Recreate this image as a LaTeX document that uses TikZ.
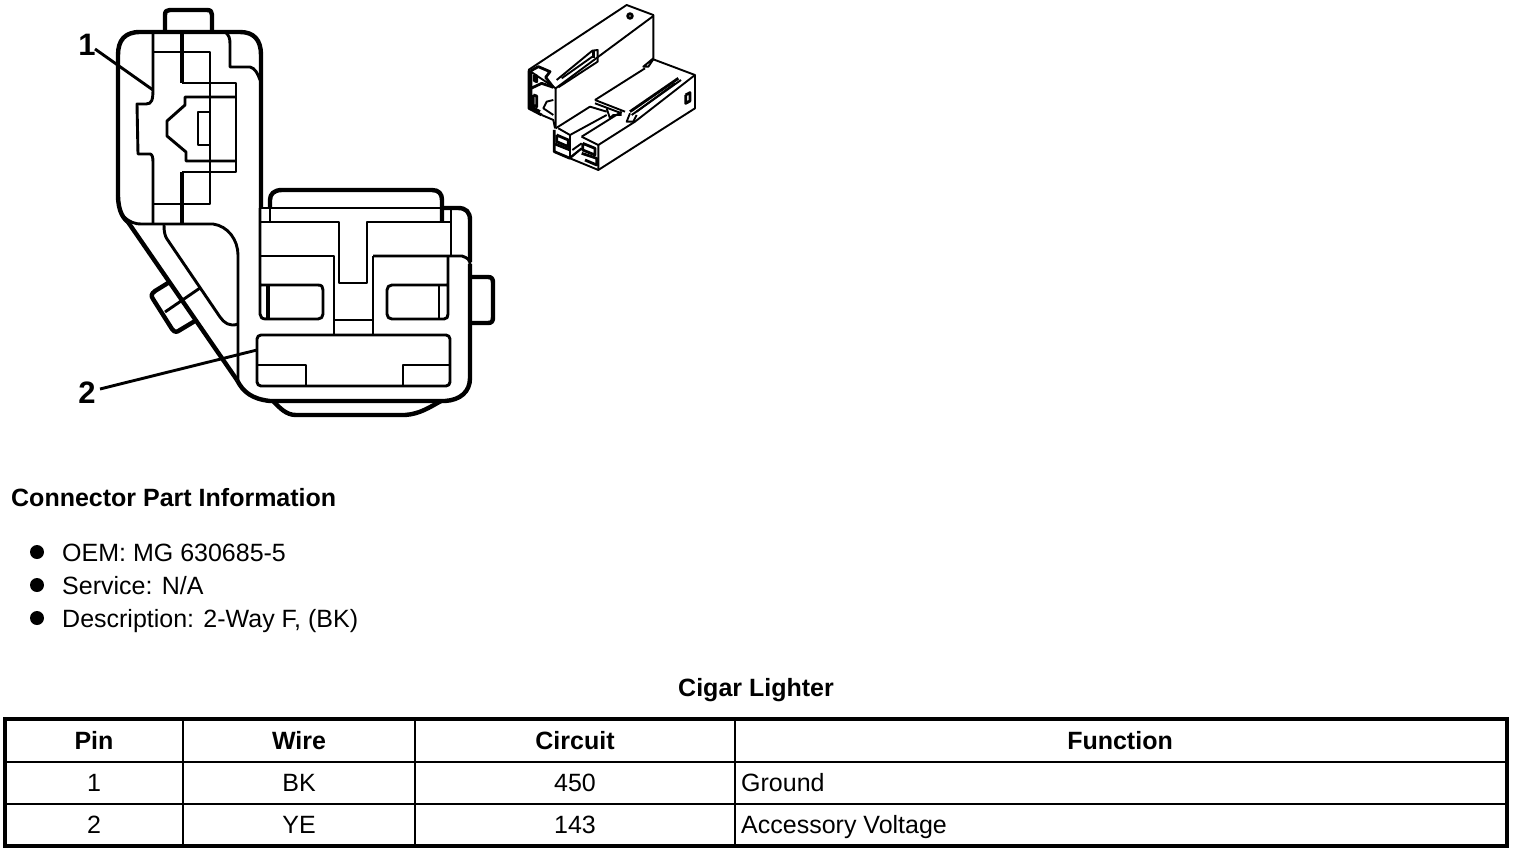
\documentclass[tikz,border=0pt]{standalone}
\usepackage{fontspec}
\setmainfont{Liberation Sans}
\tikzstyle{txt}=[anchor=base west,inner sep=0pt,font=\fontsize{25}{28}\selectfont]
\tikzstyle{head}=[anchor=base,inner sep=0pt,font=\fontsize{25}{28}\selectfont\bfseries]
\tikzstyle{cell}=[anchor=base,inner sep=0pt,font=\fontsize{25}{28}\selectfont]
\tikzstyle{dot}=[circle,fill=black,minimum size=14pt,inner sep=0pt]
\tikzstyle{callout}=[inner sep=2pt,font=\fontsize{31}{36}\selectfont\bfseries]
\tikzstyle{thin}=[line width=2.9pt,line join=round]
\tikzstyle{heavy}=[line width=4.4pt,line join=round]
\tikzstyle{fine}=[line width=1.9pt,line join=round]
\tikzstyle{dense}=[line width=2.8pt,line join=round]
\begin{document}
\begin{tikzpicture}[x=1pt,y=-1pt]
		\useasboundingbox (0,0) rectangle (1520,852);
		
		% upper housing
		\draw[heavy] (118,195) -- (118,55) .. controls (118,40) and (125,32) .. (140,32) -- (240,32) .. controls (254,32) and (261,40) .. (261,55) -- (261,208);
		\draw[heavy] (118,195) .. controls (118,212) and (124,219) .. (128,222);
		\draw[thin] (124,217) .. controls (130,222) and (134,224) .. (142,224) -- (213,224) .. controls (228,226) and (238,240) .. (238,255) -- (238,380);
		\draw[heavy] (165,32) -- (165,15) .. controls (165,11) and (167,10) .. (170,10) -- (207,10) .. controls (211,10) and (212,12) .. (212,15) -- (212,32);
		\draw[thin] (153,32) -- (153,88) .. controls (153,100) and (152,104) .. (146,104) -- (137,104) -- (138,154) -- (150,154) .. controls (152,154) and (153,157) .. (153,162) -- (153,224);
		\draw[heavy] (182,32) -- (182,83);
		\draw[thin] (182,83) -- (236,83) -- (236,172) -- (182,172);
		\draw[heavy] (182,172) -- (182,224);
		\draw[thin] (153,52) -- (210,52) -- (210,204) -- (153,204);
		\draw[thin] (236,97) -- (185,97) -- (185,105) -- (167,121) -- (167,136) -- (186,152) -- (186,161) -- (236,161);
		\draw[thin] (210,112) -- (198,112) -- (198,145) -- (210,145);
		\draw[thin] (225,32) .. controls (229,35) and (230,38) .. (230,44) -- (230,67) -- (250,67) .. controls (255,68) and (258,74) .. (260,80);
		
		% lower diagonal with its lug
		\draw[heavy] (128,222) -- (237,380);
		\draw[thin] (164,225) .. controls (164,232) and (165,236) .. (167,239) -- (220,317) .. controls (224,323) and (230,327) .. (238,324);
		\draw[heavy] (168,283) -- (155,291) .. controls (151,294) and (151,296) .. (153,299) -- (172,329) .. controls (175,333) and (177,332) .. (180,330) -- (195,321);
		\draw[thin] (165,312) -- (200,288);
		
		% lower housing
		\draw[heavy] (237,380) .. controls (243,392) and (252,399) .. (270,401) -- (445,401) .. controls (460,400) and (470,392) .. (470,378) -- (470,264);
		\draw[thin] (470,264) .. controls (470,260) and (468,258) .. (462,256) -- (373,256);
		\draw[heavy] (442,208) -- (458,208) .. controls (466,208) and (470,212) .. (470,220) -- (470,262);
		\draw[heavy] (470,277) -- (488,277) .. controls (492,277) and (493,279) .. (493,283) -- (493,317) .. controls (493,321) and (492,323) .. (488,323) -- (470,323);
		\draw[heavy] (273,401) .. controls (280,408) and (286,415) .. (296,415) -- (405,415) .. controls (420,414) and (430,407) .. (441,401);
		\draw[heavy] (270,208) -- (270,200) .. controls (270,194) and (274,190) .. (282,190) -- (432,190) .. controls (439,190) and (442,194) .. (442,200) -- (442,222);
		\draw[thin] (261,208) -- (463,208);
		\draw[thin] (270,208) -- (270,222);
		\draw[thin] (451,208) -- (451,256);
		\draw[thin] (260,222) -- (339,222) -- (339,283) -- (367,283) -- (367,222) -- (451,222);
		\draw[thin] (260,256) -- (334,256) -- (334,335);
		\draw[thin] (373,335) -- (373,256);
		\draw[thin] (334,320) -- (373,320);
		\draw[thin] (260,208) -- (260,314) .. controls (260,317) and (262,319) .. (266,319) -- (318,319) .. controls (321,319) and (323,317) .. (323,314) -- (323,290) .. controls (323,287) and (322,285) .. (318,285) -- (260,285);
		\draw[heavy] (268,285) -- (268,319);
		\draw[thin] (448,256) -- (448,314) .. controls (448,317) and (447,319) .. (444,319) -- (392,319) .. controls (389,319) and (387,317) .. (387,314) -- (387,290) .. controls (387,287) and (389,285) .. (392,285) -- (448,285);
		\draw[thin] (439,285) -- (439,319);
		\draw[thin,rounded corners=4pt] (257,335) rectangle (450,386);
		\draw[thin] (258,365) -- (306,365) -- (306,386);
		\draw[thin] (450,365) -- (403,365) -- (403,386);
		
		% callouts
		\node[callout] (one) at (87,45) {1};
		\node[callout] (two) at (87,393) {2};
		\coordinate (tipone) at (153,90);
		\coordinate (tiptwo) at (257,350);
		\draw[thin] (95,49) -- (tipone);
		\draw[thin] (100,389) -- (tiptwo);
		
		% small view of the connector
		\begin{scope}[shift={(515,0)},x=0.3333pt,y=-0.3333pt]
		\draw[fine] (40,210) -- (335,15) -- (415,45) -- (415,175) -- (385,200) -- (400,200) -- (415,178) -- (540,225) -- (540,325) -- (250,510) -- (165,475);
		\draw[fine] (122,265) -- (415,48);
		\draw[fine] (40,210) -- (122,265) -- (122,385);
		\draw[dense] (42,212) -- (42,325) -- (80,345);
		\draw[fine] (80,345) -- (115,360) -- (120,385);
		\draw[dense] (48,212) -- (70,200) -- (105,215) -- (92,232) -- (115,262);
		\draw[fine] (115,300) -- (95,305) -- (85,325) -- (115,345);
		\draw[dense] (48,212) -- (48,320) -- (75,335);
		\draw[dense] (58,225) -- (65,228) -- (65,245) -- (58,242) -- (58,225);
		\draw[dense] (55,285) -- (65,288) -- (65,320) -- (55,316) -- (55,285);
		\draw[dense] (48,265) -- (80,250) -- (115,262);
		\draw[fine] (125,240) -- (232,152) -- (248,150) -- (248,185) -- (130,262);
		\draw[fine] (140,235) -- (232,170);
		\draw[dense] (235,150) -- (235,175);
		\draw[fine] (240,300) -- (390,205);
		\draw[fine] (240,300) -- (330,335);
		\draw[fine] (240,310) -- (320,340);
		\draw[fine] (275,325) -- (285,355) -- (295,345) -- (320,345);
		\draw[fine] (122,385) -- (225,320) -- (275,335);
		\draw[fine] (130,385) -- (165,405) -- (275,345);
		\draw[fine] (165,405) -- (165,475);
		\draw[dense] (118,390) -- (118,455) -- (165,475);
		\draw[dense] (125,405) -- (160,420) -- (160,440) -- (125,425) -- (125,405);
		\draw[dense] (120,432) -- (165,450);
		\draw[fine] (172,450) -- (200,430);
		\draw[fine] (168,470) -- (200,445);
		\draw[fine] (200,410) -- (250,435) -- (250,510);
		\draw[fine] (200,410) -- (320,335);
		\draw[fine] (250,435) -- (360,365) -- (540,225);
		\draw[dense] (203,430) -- (240,445) -- (240,465) -- (203,450) -- (203,430);
		\draw[dense] (200,460) -- (215,465) -- (245,475) -- (245,495) -- (210,480);
		\draw[fine] (165,475) -- (200,445);
		\draw[dense] (345,335) -- (490,235);
		\draw[fine] (350,345) -- (498,240);
		\draw[fine] (365,335) -- (480,250);
		\draw[fine] (345,340) -- (335,365) -- (355,365) -- (365,345);
		\draw[dense] (345,48) circle (7);
		\draw[dense] (512,285) -- (525,278) -- (525,303) -- (512,310) -- (512,285);
		\end{scope}
		
		% part information
		\node[anchor=base west,inner sep=0pt,font=\fontsize{25}{28}\selectfont\bfseries] (title) at (11,506) {Connector Part Information};
		\node[dot] (ba) at (37,552) {};
		\node[dot] (bb) at (37,585) {};
		\node[dot] (bc) at (37,618) {};
		\node[txt] (oem) at (62,561) {OEM: MG 630685-5};
		\node[txt] (svc) at (62,594) {Service: N/A};
		\node[txt] (dsc) at (62,627) {Description: 2-Way F, (BK)};
		\node[head] (cap) at (756,696) {Cigar Lighter};
		
		% table
		\draw[line width=3.4pt] (5,719) rectangle (1507,846);
		\draw[thin] (5,762) -- (1507,762);
		\draw[thin] (5,804) -- (1507,804);
		\draw[thin] (183,719) -- (183,846);
		\draw[thin] (415,719) -- (415,846);
		\draw[thin] (735,719) -- (735,846);
		\node[head] (hpin) at (94,749) {Pin};
		\node[head] (hwire) at (299,749) {Wire};
		\node[head] (hcirc) at (575,749) {Circuit};
		\node[head] (hfunc) at (1120,749) {Function};
		\node[cell] (pa) at (94,791) {1};
		\node[cell] (wa) at (299,791) {BK};
		\node[cell] (ca) at (575,791) {450};
		\node[txt] (fa) at (741,791) {Ground};
		\node[cell] (pb) at (94,833) {2};
		\node[cell] (wb) at (299,833) {YE};
		\node[cell] (cb) at (575,833) {143};
		\node[txt] (fb) at (741,833) {Accessory Voltage};
\end{tikzpicture}
\end{document}
